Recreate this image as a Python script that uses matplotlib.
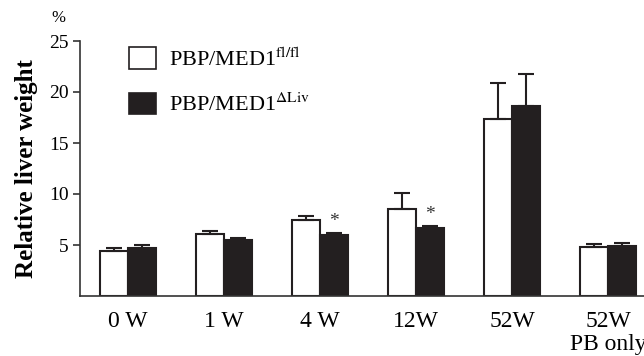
import matplotlib
matplotlib.use("Agg")
import matplotlib.pyplot as plt
import numpy as np
from matplotlib.patches import Patch

categories = ["0 W", "1 W", "4 W", "12W", "52W", "52W\nPB only"]
flfl_mean = [4.4, 6.05, 7.45, 8.5, 17.4, 4.8]
flfl_err = [0.3, 0.35, 0.35, 1.55, 3.5, 0.33]
liv_mean = [4.7, 5.5, 6.0, 6.7, 18.65, 4.9]
liv_err = [0.3, 0.2, 0.15, 0.15, 3.15, 0.33]
significant = [False, False, True, True, False, False]

plt.rcParams['font.family'] = ['Liberation Serif', 'DejaVu Serif']
plt.rcParams['mathtext.fontset'] = 'stix'

fig = plt.figure(figsize=(6.44, 3.56), dpi=100)
ax = fig.add_axes([80/644, 1-296/356, 1-80/644, (296-41)/356])

x = np.arange(len(categories))
w = 0.29
edge = '#231f20'
zeros = [0] * len(categories)
ekw = dict(ecolor=edge, elinewidth=1.5, capsize=5.5, capthick=1.5)
ax.bar(x - w/2, flfl_mean, w, color='white', edgecolor=edge, linewidth=1.5,
       yerr=[zeros, flfl_err], error_kw=ekw)
ax.bar(x + w/2, liv_mean, w, color=edge, edgecolor=edge, linewidth=1.5,
       yerr=[zeros, liv_err], error_kw=ekw)

for i, s in enumerate(significant):
    if s:
        ax.text(x[i] + w/2, liv_mean[i] + liv_err[i] + 0.3, '*', ha='center', va='bottom',
                fontsize=14, color='#333333')

ax.set_xlim(-0.5, 5.375)
ax.set_ylim(0, 25)
ax.set_yticks([5, 10, 15, 20, 25])
ax.set_xticks(x)
ax.set_xticklabels(categories, fontsize=17, linespacing=1.1)
ax.tick_params(axis='x', length=0, pad=11)
ax.tick_params(axis='y', labelsize=14, length=5, width=1.2, direction='out', color='#333333', pad=3)
for sp in ['top', 'right']:
    ax.spines[sp].set_visible(False)
for sp in ['left', 'bottom']:
    ax.spines[sp].set_color('#333333')
    ax.spines[sp].set_linewidth(1.2)

ax.set_ylabel('Relative liver weight', fontsize=18, fontweight='bold', labelpad=8)
fig.text(58/644, 1-18/356, '%', fontsize=12, ha='center', va='center')

handles = [Patch(facecolor='white', edgecolor=edge, linewidth=1.2),
           Patch(facecolor=edge, edgecolor=edge, linewidth=1.2)]
labels = [r'PBP/MED1$^{\mathrm{fl/fl}}$', r'PBP/MED1$^{\Delta\mathrm{Liv}}$']
ax.legend(handles, labels, loc='upper left', bbox_to_anchor=(40/564, 1.01), frameon=False,
          fontsize=16, handlelength=1.2, handleheight=1.1, labelspacing=1.0,
          handletextpad=0.6, borderaxespad=0)

fig.savefig('out.png', dpi=100)
